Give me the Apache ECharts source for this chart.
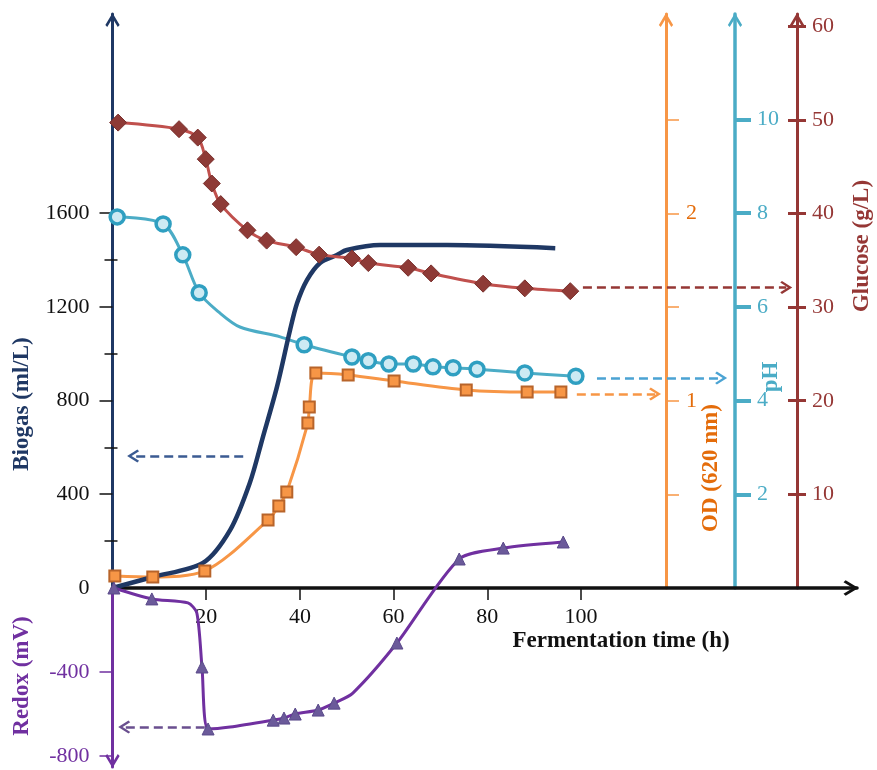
<!DOCTYPE html>
<html><head><meta charset="utf-8">
<script src="https://cdn.jsdelivr.net/npm/echarts@6/dist/echarts.min.js"></script>
<style>html,body{margin:0;padding:0;background:#fff}#c{width:877px;height:770px}</style>
</head><body><div id="c"></div>
<script>
// ---- tick labels ----
const xTicks = [20, 40, 60, 80, 100];
const biogasTicks = [0, 400, 800, 1200, 1600];
const biogasMinorTicks = [200, 600, 1000, 1400];
const redoxTicks = [-400, -800];
const odTicks = [0.5, 1, 1.5, 2, 2.5];
const odLabels = [1, 2];
const phTicks = [2, 4, 6, 8, 10];
const glucoseTicks = [10, 20, 30, 40, 50, 60];

// ---- series (time in h) ----
const biogasTime = [0, 8.6, 19.3, 25.1, 29.3, 32.1, 35.1, 37.9, 39.4, 41.5, 44.3, 47.9, 50.0, 57.1, 71.4, 94.5];
const biogasVal  = [0, 47, 107, 247, 448, 644, 858, 1101, 1216, 1314, 1387, 1421, 1442, 1463, 1463, 1450];

const glucoseTime = [1.2, 14.2, 18.2, 19.9, 21.2, 23.1, 28.8, 32.9, 39.2, 44.1, 51.1, 54.6, 63.1, 68.0, 79.1, 88.0, 97.7];
const glucoseVal  = [49.7, 49.0, 48.1, 45.8, 43.2, 41.0, 38.2, 37.1, 36.4, 35.6, 35.2, 34.7, 34.2, 33.6, 32.5, 32.0, 31.7];

const phTime   = [1.0, 10.8, 15.0, 18.5, 22.9, 27.2, 35.8, 40.9, 51.1, 54.6, 59.0, 64.2, 68.4, 72.7, 77.8, 88.0, 98.9];
const phVal    = [7.92, 7.77, 7.11, 6.30, 5.87, 5.57, 5.36, 5.19, 4.93, 4.85, 4.78, 4.78, 4.72, 4.70, 4.67, 4.59, 4.52];
const phMarked = [1, 1, 1, 1, 0, 0, 0, 1, 1, 1, 1, 1, 1, 1, 1, 1, 1];

const odTime = [0.5, 8.6, 19.7, 33.2, 35.5, 37.2, 41.7, 42.0, 43.4, 50.3, 60.1, 75.5, 88.5, 95.7];
const odVal  = [0.064, 0.059, 0.091, 0.363, 0.438, 0.513, 0.881, 0.967, 1.148, 1.138, 1.106, 1.058, 1.047, 1.047];

const redoxTime   = [0.3, 8.4, 16.1, 18.0, 19.1, 20.4, 25.1, 34.3, 36.6, 39.0, 43.9, 47.3, 51.3, 60.7, 74.0, 83.4, 96.2];
const redoxVal    = [0, -52, -71, -119, -376, -671, -662, -629, -619, -600, -581, -548, -500, -262, 138, 190, 219];
const redoxMarked = [1, 1, 0, 0, 1, 1, 0, 1, 1, 1, 1, 1, 0, 1, 1, 1, 1];

// ---- reference arrows (data coords) ----
const biogasArrow  = [[27.9, 563], [4.4, 563]];
const redoxArrow   = [[19.7, -662], [2.5, -662]];
const glucoseArrow = [[100.4, 32.1], [143.8, 32.1]];
const phArrow      = [[103.4, 4.48], [129.9, 4.48]];
const odArrow      = [[99.1, 1.036], [115.8, 1.036]];

const CHEV = 'path://M5,0L10,8.4L8.7,9.8L5,3.6L1.3,9.8L0,8.4Z';
const FONT = 'Liberation Serif';

const pairs = (t, v, m) => t.map((x, i) => (m && !m[i]) ? {value: [x, v[i]], symbol: 'none'} : [x, v[i]]);

function arrow(pts, color) {
  return {
    silent: true, animation: false,
    symbol: ['none', CHEV], symbolSize: [13, 12],
    lineStyle: {type: [9, 5], width: 2.5, color: color},
    label: {show: false}, emphasis: {disabled: true},
    data: [[{coord: pts[0]}, {coord: pts[1]}]]
  };
}

const XMAX = 158.9;
const chart = echarts.init(document.getElementById('c'), null, {renderer: 'canvas'});
const lbl = (color, margin, vals) => ({show: true, color: color, fontFamily: FONT, fontSize: 22, margin: margin, customValues: vals, formatter: v => String(v)});
const tick = (color, len, width, vals, inside) => ({show: true, length: len, inside: !!inside, customValues: vals, lineStyle: {color: color, width: width}});
const TF = 'bold 23px "Liberation Serif"';

chart.setOption({
  animation: false,
  backgroundColor: '#fff',
  textStyle: {fontFamily: FONT},
  grid: [
    {left: 112.5, right: 20, top: 14, height: 574, containLabel: false, outerBoundsMode: 'none'},
    {left: 112.5, right: 20, top: 588, height: 179, containLabel: false, outerBoundsMode: 'none'}
  ],
  xAxis: [
    {type: 'value', gridIndex: 0, min: 0, max: XMAX, position: 'bottom',
     axisLine: {show: true, onZero: false, lineStyle: {color: '#111', width: 3.5}, symbol: ['none', CHEV], symbolSize: [16, 15], symbolOffset: [0, -6]},
     axisTick: tick('#111', 12, 1.5, xTicks), axisLabel: lbl('#111', 18, xTicks), splitLine: {show: false}},
    {type: 'value', gridIndex: 1, min: 0, max: XMAX, show: false}
  ],
  yAxis: [
    {type: 'value', gridIndex: 0, position: 'left', min: 0, max: 2449,
     axisLine: {show: true, onZero: false, lineStyle: {color: '#1f3864', width: 3}, symbol: ['none', CHEV], symbolSize: [16, 14], symbolOffset: [0, -6]},
     axisTick: tick('#111', 13, 1.5, [400, 800, 1200, 1600]), axisLabel: lbl('#111', 23, biogasTicks), splitLine: {show: false}},
    {type: 'value', gridIndex: 0, position: 'left', offset: -5, min: 0, max: 2449,
     axisLine: {show: false, onZero: false}, axisTick: tick('#111', 13, 1.5, biogasMinorTicks), axisLabel: {show: false}, splitLine: {show: false}},
    {type: 'value', gridIndex: 0, position: 'right', offset: -191, min: 0, max: 3.066,
     axisLine: {show: true, onZero: false, lineStyle: {color: '#f79646', width: 3}, symbol: ['none', CHEV], symbolSize: [16, 14], symbolOffset: [0, -6]},
     axisTick: tick('#f79646', 13, 1.5, odTicks), axisLabel: lbl('#e46c0a', 20, odLabels), splitLine: {show: false}},
    {type: 'value', gridIndex: 0, position: 'right', offset: -122, min: 0, max: 12.25,
     axisLine: {show: true, onZero: false, lineStyle: {color: '#4bacc6', width: 3.5}, symbol: ['none', CHEV], symbolSize: [16, 14], symbolOffset: [0, -6]},
     axisTick: tick('#4bacc6', 16, 4, phTicks), axisLabel: lbl('#4bacc6', 22, phTicks), splitLine: {show: false}},
    {type: 'value', gridIndex: 0, position: 'right', offset: -60, min: 0, max: 61.3,
     axisLine: {show: true, onZero: false, lineStyle: {color: '#953735', width: 3}, symbol: ['none', CHEV], symbolSize: [16, 14], symbolOffset: [0, -6]},
     axisTick: tick('#953735', 9, 3, glucoseTicks), axisLabel: lbl('#953735', 15, glucoseTicks), splitLine: {show: false}},
    {type: 'value', gridIndex: 0, position: 'right', offset: -60, min: 0, max: 61.3,
     axisLine: {show: false, onZero: false}, axisTick: tick('#953735', 9, 3, glucoseTicks, true), axisLabel: {show: false}, splitLine: {show: false}},
    {type: 'value', gridIndex: 1, position: 'left', min: -852, max: 0,
     axisLine: {show: true, onZero: false, lineStyle: {color: '#7030a0', width: 3}, symbol: [CHEV, 'none'], symbolSize: [16, 14], symbolOffset: [6, 0]},
     axisTick: tick('#7030a0', 13, 1.5, redoxTicks), axisLabel: lbl('#7030a0', 23, redoxTicks), splitLine: {show: false}}
  ],
  series: [
    {type: 'line', name: 'OD', xAxisIndex: 0, yAxisIndex: 2, smooth: 0.3,
     data: pairs(odTime, odVal), symbol: 'rect', symbolSize: 11,
     lineStyle: {color: '#f79646', width: 3}, itemStyle: {color: '#f79646', borderColor: '#b8642a', borderWidth: 2},
     markLine: arrow(odArrow, '#f79646')},
    {type: 'line', name: 'pH', xAxisIndex: 0, yAxisIndex: 3, smooth: 0.3,
     data: pairs(phTime, phVal, phMarked), symbol: 'circle', symbolSize: 14,
     lineStyle: {color: '#4bacc6', width: 3}, itemStyle: {color: '#cdeaf3', borderColor: '#2f9fc1', borderWidth: 3.5},
     markLine: arrow(phArrow, '#4ba3d3')},
    {type: 'line', name: 'Biogas', xAxisIndex: 0, yAxisIndex: 0, smooth: 0.3,
     data: pairs(biogasTime, biogasVal), showSymbol: false, symbol: 'none',
     lineStyle: {color: '#1f3864', width: 4.5},
     markLine: arrow(biogasArrow, '#3b5b92')},
    {type: 'line', name: 'Glucose', xAxisIndex: 0, yAxisIndex: 4, smooth: 0.3,
     data: pairs(glucoseTime, glucoseVal), symbol: 'diamond', symbolSize: 17,
     lineStyle: {color: '#c0504d', width: 3}, itemStyle: {color: '#8e3a36', borderColor: '#7a2f2c', borderWidth: 1},
     markLine: arrow(glucoseArrow, '#953735')},
    {type: 'line', name: 'Redox', xAxisIndex: 1, yAxisIndex: 6, smooth: 0.25, clip: false,
     data: pairs(redoxTime, redoxVal, redoxMarked), symbol: 'triangle', symbolSize: 12,
     lineStyle: {color: '#7030a0', width: 3}, itemStyle: {color: '#6b5a9a', borderColor: '#5a4a8a', borderWidth: 1},
     markLine: arrow(redoxArrow, '#6a4f8f')}
  ],
  graphic: [
    {type: 'text', x: 22, y: 404, rotation: Math.PI / 2, style: {text: 'Biogas (ml/L)', font: TF, fill: '#1f3864', align: 'center', verticalAlign: 'middle'}},
    {type: 'text', x: 22, y: 676, rotation: Math.PI / 2, style: {text: 'Redox (mV)', font: TF, fill: '#7030a0', align: 'center', verticalAlign: 'middle'}},
    {type: 'text', x: 711, y: 468, rotation: Math.PI / 2, style: {text: 'OD (620 nm)', font: TF, fill: '#e46c0a', align: 'center', verticalAlign: 'middle'}},
    {type: 'text', x: 771, y: 377, rotation: Math.PI / 2, style: {text: 'pH', font: TF, fill: '#4bacc6', align: 'center', verticalAlign: 'middle'}},
    {type: 'text', x: 862, y: 246, rotation: Math.PI / 2, style: {text: 'Glucose (g/L)', font: TF, fill: '#953735', align: 'center', verticalAlign: 'middle'}},
    {type: 'text', x: 621, y: 641, style: {text: 'Fermentation time (h)', font: TF, fill: '#111', align: 'center', verticalAlign: 'middle'}}
  ]
});
</script></body></html>
